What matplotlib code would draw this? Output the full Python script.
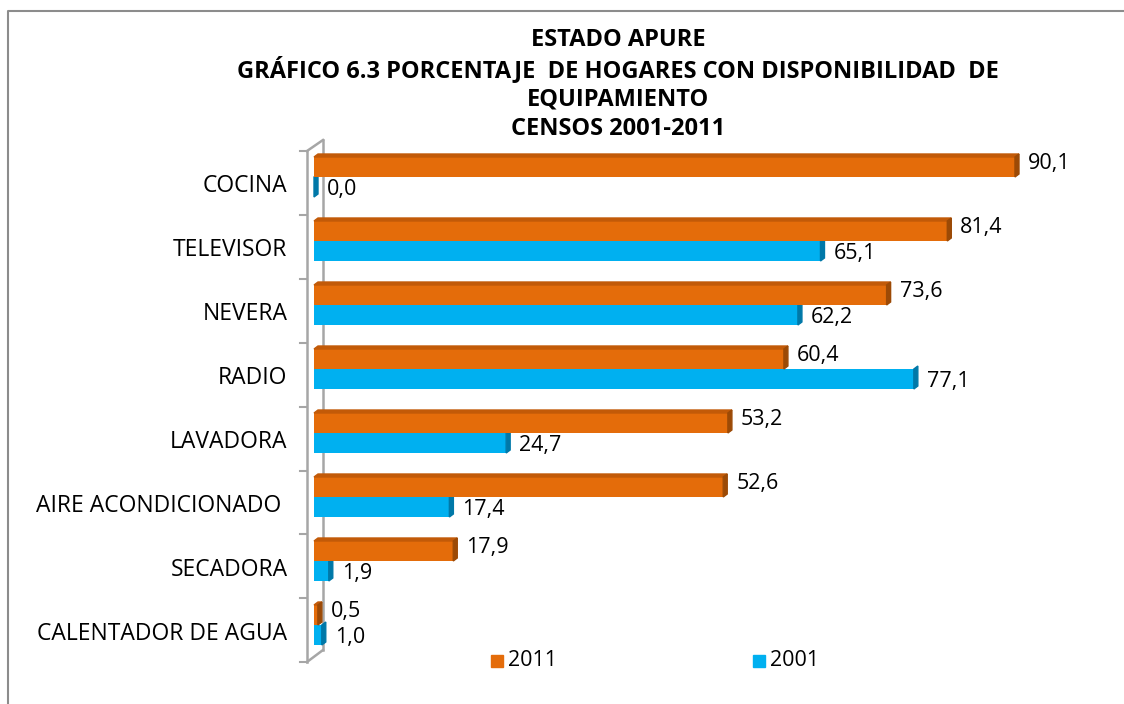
import numpy as np
import matplotlib.pyplot as plt
from matplotlib.patches import Polygon
from matplotlib.transforms import ScaledTranslation

# datos
categorias = ["COCINA", "TELEVISOR", "NEVERA", "RADIO", "LAVADORA",
              "AIRE ACONDICIONADO ", "SECADORA", "CALENTADOR DE AGUA"]
v2011 = [90.1, 81.4, 73.6, 60.4, 53.2, 52.6, 17.9, 0.5]
v2001 = [0.0, 65.1, 62.2, 77.1, 24.7, 17.4, 1.9, 1.0]
titulo = ["ESTADO APURE",
          "GRÁFICO 6.3 PORCENTAJE  DE HOGARES CON DISPONIBILIDAD  DE",
          "EQUIPAMIENTO",
          "CENSOS 2001-2011"]

naranja, naranja_osc, naranja_top = "#E46C0A", "#9C4A06", "#C25A08"
azul, azul_osc = "#00B0F0", "#0078A8"

plt.rcParams['font.family'] = ['Open Sans', 'DejaVu Sans']

W, H = 1124, 704
fig = plt.figure(figsize=(W / 100, H / 100), dpi=100)

# capa de fondo en pixeles (borde, pared 3D, titulo, leyenda)
bg = fig.add_axes([0, 0, 1, 1])
bg.set_xlim(0, W)
bg.set_ylim(H, 0)
bg.axis("off")
gris = "#A6A6A6"
bg.plot([8, 8, W + 5], [H + 5, 11, 11], color="#8C8C8C", lw=1.5)
bg.plot([307, 307], [151, 662], color=gris, lw=1.8)
bg.plot([323, 323], [140, 650], color=gris, lw=1.8)
bg.plot([307, 323], [151, 140], color=gris, lw=1.8)
bg.plot([307, 323], [662, 650], color=gris, lw=1.8)
for k in range(9):
    yy = 151 + 63.9 * k
    bg.plot([300, 307], [yy, yy], color=gris, lw=1.5)

for i, linea in enumerate(titulo):
    bg.text(618, 40 + 29.7 * i, linea, ha="center", va="center",
            fontsize=17, fontweight="bold", color="black")

# leyenda
bg.add_patch(plt.Rectangle((491, 655), 12, 12, color=naranja))
bg.text(508, 661, "2011", va="center", fontsize=15.5)
bg.add_patch(plt.Rectangle((753, 655), 12, 12, color=azul))
bg.text(770, 661, "2001", va="center", fontsize=15.5)

# ejes de las barras
ax_l, ax_r, ax_t, ax_b = 300, 1100, 140, 665
ax = fig.add_axes([ax_l / W, 1 - ax_b / H, (ax_r - ax_l) / W, (ax_b - ax_t) / H])
ax.patch.set_alpha(0)
pxx = 7.78   # pixeles por unidad
pxy = 64.0   # pixeles por categoria
xmin = -(314 - ax_l) / pxx
ax.set_xlim(xmin, xmin + (ax_r - ax_l) / pxx)
ax.set_ylim((ax_b - 177) / pxy, (ax_t - 177) / pxy)

y = np.arange(len(categorias))
h = 20 / pxy
dx, dy = 4 / pxx, 3 / pxy

def barras(vals, offs, c, c_top, c_osc, dlab, z):
    ax.barh(y + offs, vals, height=h, color=c, zorder=z)
    for yi, v in zip(y + offs, vals):
        top, bot = yi - h / 2, yi + h / 2
        if c_top:
            ax.add_patch(Polygon([(0, top), (v, top), (v + dx, top - dy), (dx, top - dy)],
                                 closed=True, color=c_top, zorder=z))
        ax.add_patch(Polygon([(v, top), (v + dx, top - dy), (v + dx, bot - dy), (v, bot)],
                             closed=True, color=c_osc, zorder=z + 0.5))
        ax.text(v + dx + 9 / pxx, yi + dlab / pxy, f"{v:.1f}".replace(".", ","),
                va="center", ha="left", fontsize=15.5, zorder=5)

barras(v2001, h / 2, azul, None, azul_osc, 3, 2)
barras(v2011, -h / 2, naranja, naranja_top, naranja_osc, -3, 3)

ax.set_yticks(y)
ax.set_yticklabels(categorias, fontsize=16.5)
ax.tick_params(axis="y", length=0, pad=9)
ax.set_xticks([])
for s in ax.spines.values():
    s.set_visible(False)
for lbl in ax.get_yticklabels():
    lbl.set_transform(lbl.get_transform() + ScaledTranslation(0, -6 / 100, fig.dpi_scale_trans))

fig.savefig("out.png", dpi=100)
